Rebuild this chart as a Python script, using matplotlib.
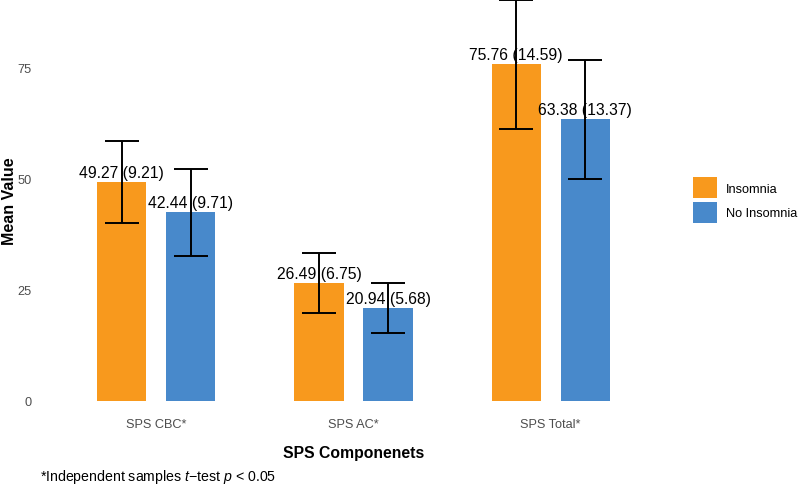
import matplotlib
matplotlib.use("Agg")
import matplotlib.pyplot as plt
from matplotlib.patches import Patch
import numpy as np

plt.rcParams['font.family'] = ['Liberation Sans', 'DejaVu Sans']
plt.rcParams['mathtext.fontset'] = 'custom'
plt.rcParams['mathtext.rm'] = 'Liberation Sans'
plt.rcParams['mathtext.it'] = 'Liberation Sans:italic'

# data
categories = ["SPS CBC*", "SPS AC*", "SPS Total*"]
groups = ["Insomnia", "No Insomnia"]
insomnia_mean = [49.27, 26.49, 75.76]
insomnia_sd = [9.21, 6.75, 14.59]
no_insomnia_mean = [42.44, 20.94, 63.38]
no_insomnia_sd = [9.71, 5.68, 13.37]

colors = ["#F8991D", "#4889CB"]

fig = plt.figure(figsize=(7.98, 4.85), dpi=100)
ax = fig.add_axes([38 / 798, 83 / 485, 631 / 798, 402 / 485])

x = np.arange(len(categories))
width = 0.25
offset = 0.175

for i, (means, sds) in enumerate([(insomnia_mean, insomnia_sd),
                                  (no_insomnia_mean, no_insomnia_sd)]):
    pos = x + (i * 2 - 1) * offset
    ax.bar(pos, means, width=width, color=colors[i], zorder=2)
    ax.errorbar(pos, means, yerr=sds, fmt='none', ecolor='black',
                elinewidth=1.4, capsize=12, capthick=1.4, zorder=3,
                clip_on=False)
    for p, m, s in zip(pos, means, sds):
        ax.annotate(f"{m:.2f} ({s:.2f})", (p, m), xytext=(0, 1.5),
                    textcoords='offset points', ha='center', va='bottom',
                    fontsize=11.3, color='black', zorder=4)

ax.set_xlim(-0.6, len(categories) - 0.4)
ax.set_ylim(0, 90.5)
ax.set_xticks(x)
ax.set_xticklabels(categories)
ax.set_yticks([0, 25, 50, 75])
ax.tick_params(axis='both', length=0, labelsize=9.2, labelcolor='#4D4D4D')
ax.tick_params(axis='x', pad=12)
ax.tick_params(axis='y', pad=4.5)
for s in ax.spines.values():
    s.set_visible(False)
ax.patch.set_alpha(0)

ax.set_xlabel("SPS Componenets", fontsize=11.3, fontweight='bold')
ax.xaxis.set_label_coords(0.5, -0.11)
ax.set_ylabel("Mean Value", fontsize=11.5, fontweight='bold')
ax.yaxis.set_label_coords(-0.034, 0.5)

fig.text(40 / 798, 1 - 477 / 485, r"*Independent samples $t$−test $p$ < 0.05",
         fontsize=10.2, va='center', ha='left')

handles = [Patch(facecolor=c, edgecolor='none') for c in colors]
ax.legend(handles, groups, loc='center left', frameon=False,
          bbox_to_anchor=(693 / 798, 1 - 201 / 485),
          bbox_transform=fig.transFigure, fontsize=9.2,
          handlelength=1.84, handleheight=2.2, labelspacing=0.24,
          handletextpad=0.72, borderpad=0, borderaxespad=0)

fig.savefig("out.png", dpi=100)
